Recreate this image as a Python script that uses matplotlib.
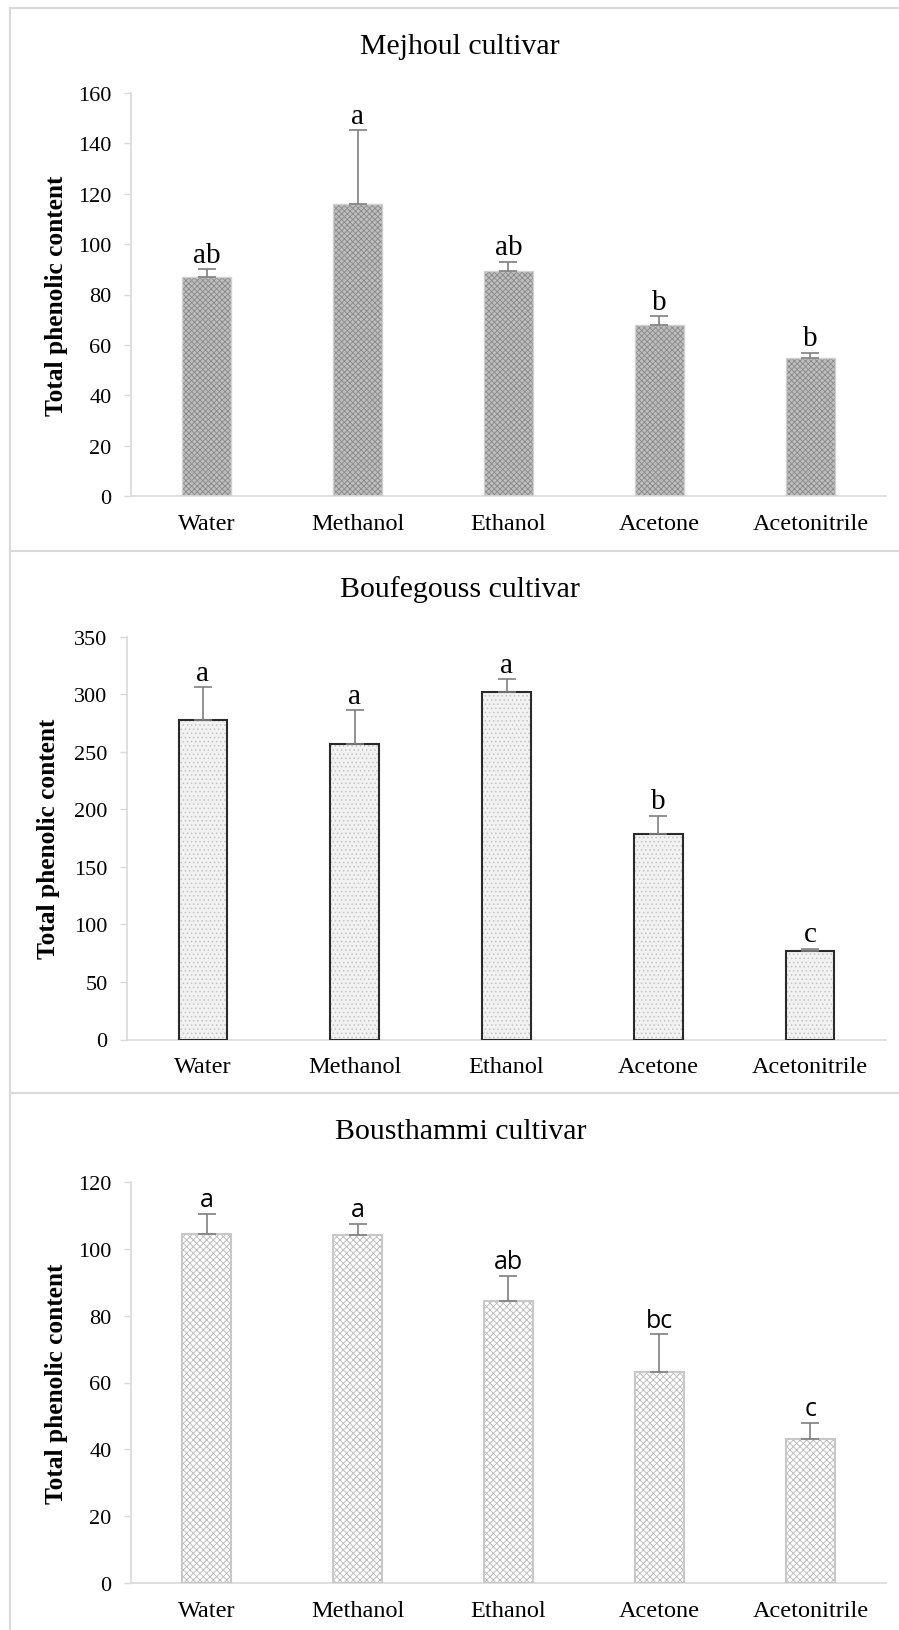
import matplotlib
matplotlib.use('Agg')
import matplotlib.pyplot as plt
from matplotlib.lines import Line2D

plt.rcParams['font.family'] = ['Liberation Serif', 'DejaVu Serif']
plt.rcParams['hatch.linewidth'] = 0.6

solvents = ['Water', 'Methanol', 'Ethanol', 'Acetone', 'Acetonitrile']

mejhoul_tpc = [87, 116, 89.5, 68, 55]
mejhoul_err = [3, 29, 3.5, 3.5, 2]
mejhoul_letters = ['ab', 'a', 'ab', 'b', 'b']

boufegouss_tpc = [278, 257, 302, 179, 76.5]
boufegouss_err = [28, 29, 11, 15.5, 2.5]
boufegouss_letters = ['a', 'a', 'a', 'b', 'c']

bousthammi_tpc = [104.5, 104, 84.5, 63, 43]
bousthammi_err = [6, 3.5, 7.5, 11.5, 5]
bousthammi_letters = ['a', 'a', 'ab', 'bc', 'c']

W, H = 899, 1631
fig = plt.figure(figsize=(W / 100, H / 100), dpi=100)

grey = '#d9d9d9'


def px_axes(left, right, y0, ytop):
    return fig.add_axes([left / W, 1 - y0 / H, (right - left) / W, (y0 - ytop) / H])


def panel(ax, title, vals, errs, letters, ymax, step, face, hatch, hcolor, edge, elw,
          title_y, ylab_x, letter_font, letter_size):
    x = range(len(solvents))
    # fill + hatch first, outline drawn on top
    ax.bar(x, vals, width=0.32, color=face, hatch=hatch, edgecolor=hcolor, linewidth=0, zorder=2)
    ax.bar(x, vals, width=0.32, fill=False, edgecolor=edge, linewidth=elw, zorder=3)
    ax.errorbar(x, vals, yerr=[[0] * len(vals), errs], fmt='none', ecolor='#7f7f7f',
                elinewidth=1.2, capsize=6.5, capthick=1.2, zorder=4)
    for i, (v, e, t) in enumerate(zip(vals, errs, letters)):
        ax.annotate(t, (i, v + e), xytext=(0, 1), textcoords='offset points',
                    ha='center', va='bottom', fontsize=letter_size, family=letter_font)
    ax.set_xlim(-0.5, len(solvents) - 0.5)
    ax.set_ylim(0, ymax)
    ax.set_yticks(range(0, ymax + 1, step))
    ax.set_xticks(list(x))
    ax.set_xticklabels(solvents, fontsize=17.5)
    ax.tick_params(axis='x', length=0, pad=12)
    ax.tick_params(axis='y', length=5, width=1, color=grey, labelsize=16, pad=9)
    for s in ['top', 'right']:
        ax.spines[s].set_visible(False)
    for s in ['left', 'bottom']:
        ax.spines[s].set_color(grey)
        ax.spines[s].set_linewidth(1.2)
    fig.text(0.512, 1 - title_y / H, title, ha='center', va='center', fontsize=21.5)
    fig.text(ylab_x / W, ax.get_position().y0 + ax.get_position().height / 2,
             'Total phenolic content', rotation=90, ha='center', va='center',
             fontsize=18.3, fontweight='bold')


ax1 = px_axes(131, 886, 497.4, 93.6)
panel(ax1, 'Mejhoul cultivar', mejhoul_tpc, mejhoul_err, mejhoul_letters, 160, 20,
      '#bdbdbd', 'xxxxxx', '#8a8a8a', '#d0d0d0', 1.0, 47, 57, ['Liberation Serif'], 21)

ax2 = px_axes(127, 886, 1040.5, 637.8)
panel(ax2, 'Boufegouss cultivar', boufegouss_tpc, boufegouss_err, boufegouss_letters, 350, 50,
      '#f2f2f2', '....', '#c4c4c4', '#2a2a2a', 1.5, 590, 49, ['Liberation Serif'], 21)

ax3 = px_axes(131, 886, 1584, 1183)
panel(ax3, 'Bousthammi cultivar', bousthammi_tpc, bousthammi_err, bousthammi_letters, 120, 20,
      '#ffffff', 'xxxxx', '#b8b8b8', '#c8c8c8', 1.5, 1132, 57, ['Open Sans', 'DejaVu Sans'], 18)

# light frame around each panel
for y in [9, 552, 1094]:
    fig.add_artist(Line2D([10 / W, 1], [1 - y / H, 1 - y / H], color=grey, lw=1.5,
                          transform=fig.transFigure))
fig.add_artist(Line2D([10 / W, 10 / W], [1 - 9 / H, 0], color=grey, lw=1.5,
                      transform=fig.transFigure))

fig.savefig('out.png', dpi=100)
